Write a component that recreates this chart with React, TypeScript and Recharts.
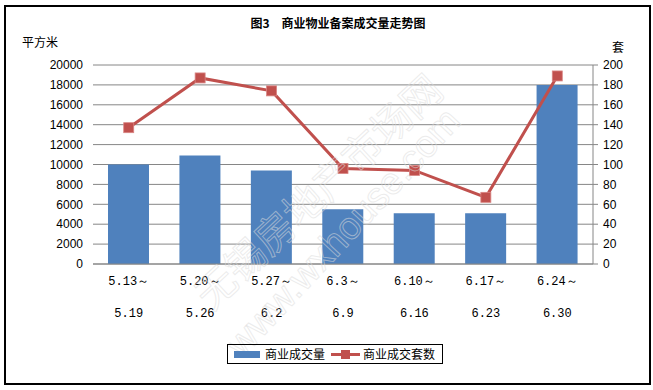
import React from "react";
import { ComposedChart, Bar, Line, XAxis, YAxis, CartesianGrid } from "recharts";

const periodStart = ["5.13～", "5.20～", "5.27～", "6.3～", "6.10～", "6.17～", "6.24～"];
const periodEnd = ["5.19", "5.26", "6.2", "6.9", "6.16", "6.23", "6.30"];
const area = [10000, 10900, 9400, 5500, 5100, 5100, 18000];
const units = [137, 187, 174, 96, 94, 67, 189];

const leftTicks = [0, 2000, 4000, 6000, 8000, 10000, 12000, 14000, 16000, 18000, 20000];
const rightTicks = [0, 20, 40, 60, 80, 100, 120, 140, 160, 180, 200];

const data = periodStart.map((s, i) => ({
  name: s + periodEnd[i],
  start: s,
  end: periodEnd[i],
  area: area[i],
  units: units[i],
}));

const BLUE = "#4F81BD";
const RED = "#C0504D";
const GRID = "#868686";
const CJK = '"Noto Sans CJK SC", sans-serif';
const NUM = '"Liberation Sans", Arial, sans-serif';

const PeriodTick = (props: any) => {
  const { x, y, index } = props;
  return (
    <g>
      <text x={x} y={y + 21} textAnchor="middle" fontSize={12} fontFamily={'"Liberation Mono", monospace'} fill="#000">
        {periodStart[index]}
      </text>
      <text x={x} y={y + 53} textAnchor="middle" fontSize={12} fontFamily={'"Liberation Mono", monospace'} fill="#000">
        {periodEnd[index]}
      </text>
    </g>
  );
};

const SquareDot = (props: any) => {
  const { cx, cy } = props;
  if (cx == null || cy == null) return null;
  return <rect x={cx - 5} y={cy - 5} width={10} height={10} fill={RED} stroke="#d98583" strokeWidth={0.8} />;
};

export default function App() {
  return (
    <div style={{ position: "absolute", left: 0, top: 0, width: 653, height: 390, background: "#fff" }}>
      <div
        style={{
          position: "absolute",
          left: 4,
          top: 5,
          width: 643,
          height: 376,
          border: "2px solid #000",
        }}
      />
      <div
        style={{
          position: "absolute",
          left: 0,
          width: 676,
          top: 14,
          textAlign: "center",
          fontFamily: CJK,
          fontWeight: "bold",
          fontSize: 12,
        }}
      >
        图3　商业物业备案成交量走势图
      </div>
      <div style={{ position: "absolute", left: 22, top: 33, fontFamily: CJK, fontSize: 12 }}>平方米</div>
      <div style={{ position: "absolute", left: 612, top: 38, fontFamily: CJK, fontSize: 12 }}>套</div>

      <ComposedChart
        width={653}
        height={390}
        data={data}
        margin={{ top: 65, right: 0, left: 0, bottom: 0 }}
        barCategoryGap={0}
      >
        <CartesianGrid yAxisId="left" vertical={false} stroke={GRID} ticks={leftTicks} />
        <XAxis
          dataKey="name"
          height={126}
          tick={<PeriodTick />}
          tickLine={false}
          tickSize={0}
          tickMargin={0}
          axisLine={{ stroke: GRID }}
          interval={0}
        />
        <YAxis
          yAxisId="left"
          width={93}
          domain={[0, 20000]}
          ticks={leftTicks}
          interval={0}
          axisLine={false}
          tickLine={false}
          tickSize={8}
          tickMargin={2}
          tick={{ fontSize: 12, fill: "#000", fontFamily: NUM }}
        />
        <YAxis
          yAxisId="right"
          orientation="right"
          width={60}
          domain={[0, 200]}
          ticks={rightTicks}
          interval={0}
          axisLine={{ stroke: GRID }}
          tickLine={{ stroke: GRID }}
          tickSize={5}
          tickMargin={5}
          tick={{ fontSize: 12, fill: "#000", fontFamily: NUM }}
        />
        <Bar yAxisId="left" dataKey="area" fill={BLUE} barSize={41} isAnimationActive={false} />
        <Line
          yAxisId="right"
          dataKey="units"
          stroke={RED}
          strokeWidth={3}
          dot={<SquareDot />}
          activeDot={false}
          isAnimationActive={false}
        />
      </ComposedChart>

      <svg
        width={653}
        height={390}
        style={{ position: "absolute", left: 0, top: 0, pointerEvents: "none" }}
      >
        <text
          x={317}
          y={190}
          transform="rotate(-43 317 190)"
          textAnchor="middle"
          dominantBaseline="central"
          fontSize={40}
          fontFamily={CJK}
          fill="none"
          stroke="#dcdcdc"
          strokeOpacity={0.55}
          strokeWidth={1}
        >
          无锡房地产市场网
        </text>
        <text
          x={343}
          y={232}
          transform="rotate(-47 343 232)"
          textAnchor="middle"
          dominantBaseline="central"
          fontSize={38}
          fontFamily={NUM}
          fill="none"
          stroke="#dcdcdc"
          strokeOpacity={0.55}
          strokeWidth={1}
        >
          www.wxhouse.com
        </text>
      </svg>

      <div
        style={{
          position: "absolute",
          left: 227,
          top: 344,
          width: 214,
          height: 18,
          border: "1px solid #000",
          fontFamily: CJK,
          fontSize: 12,
          lineHeight: "18px",
        }}
      >
        <div style={{ position: "absolute", left: 6, top: 6, width: 26, height: 7, background: BLUE }} />
        <div style={{ position: "absolute", left: 37, top: 0 }}>商业成交量</div>
        <div style={{ position: "absolute", left: 103, top: 8, width: 29, height: 3, background: RED }} />
        <div style={{ position: "absolute", left: 113, top: 5, width: 9, height: 9, background: RED }} />
        <div style={{ position: "absolute", left: 135, top: 0 }}>商业成交套数</div>
      </div>
    </div>
  );
}
